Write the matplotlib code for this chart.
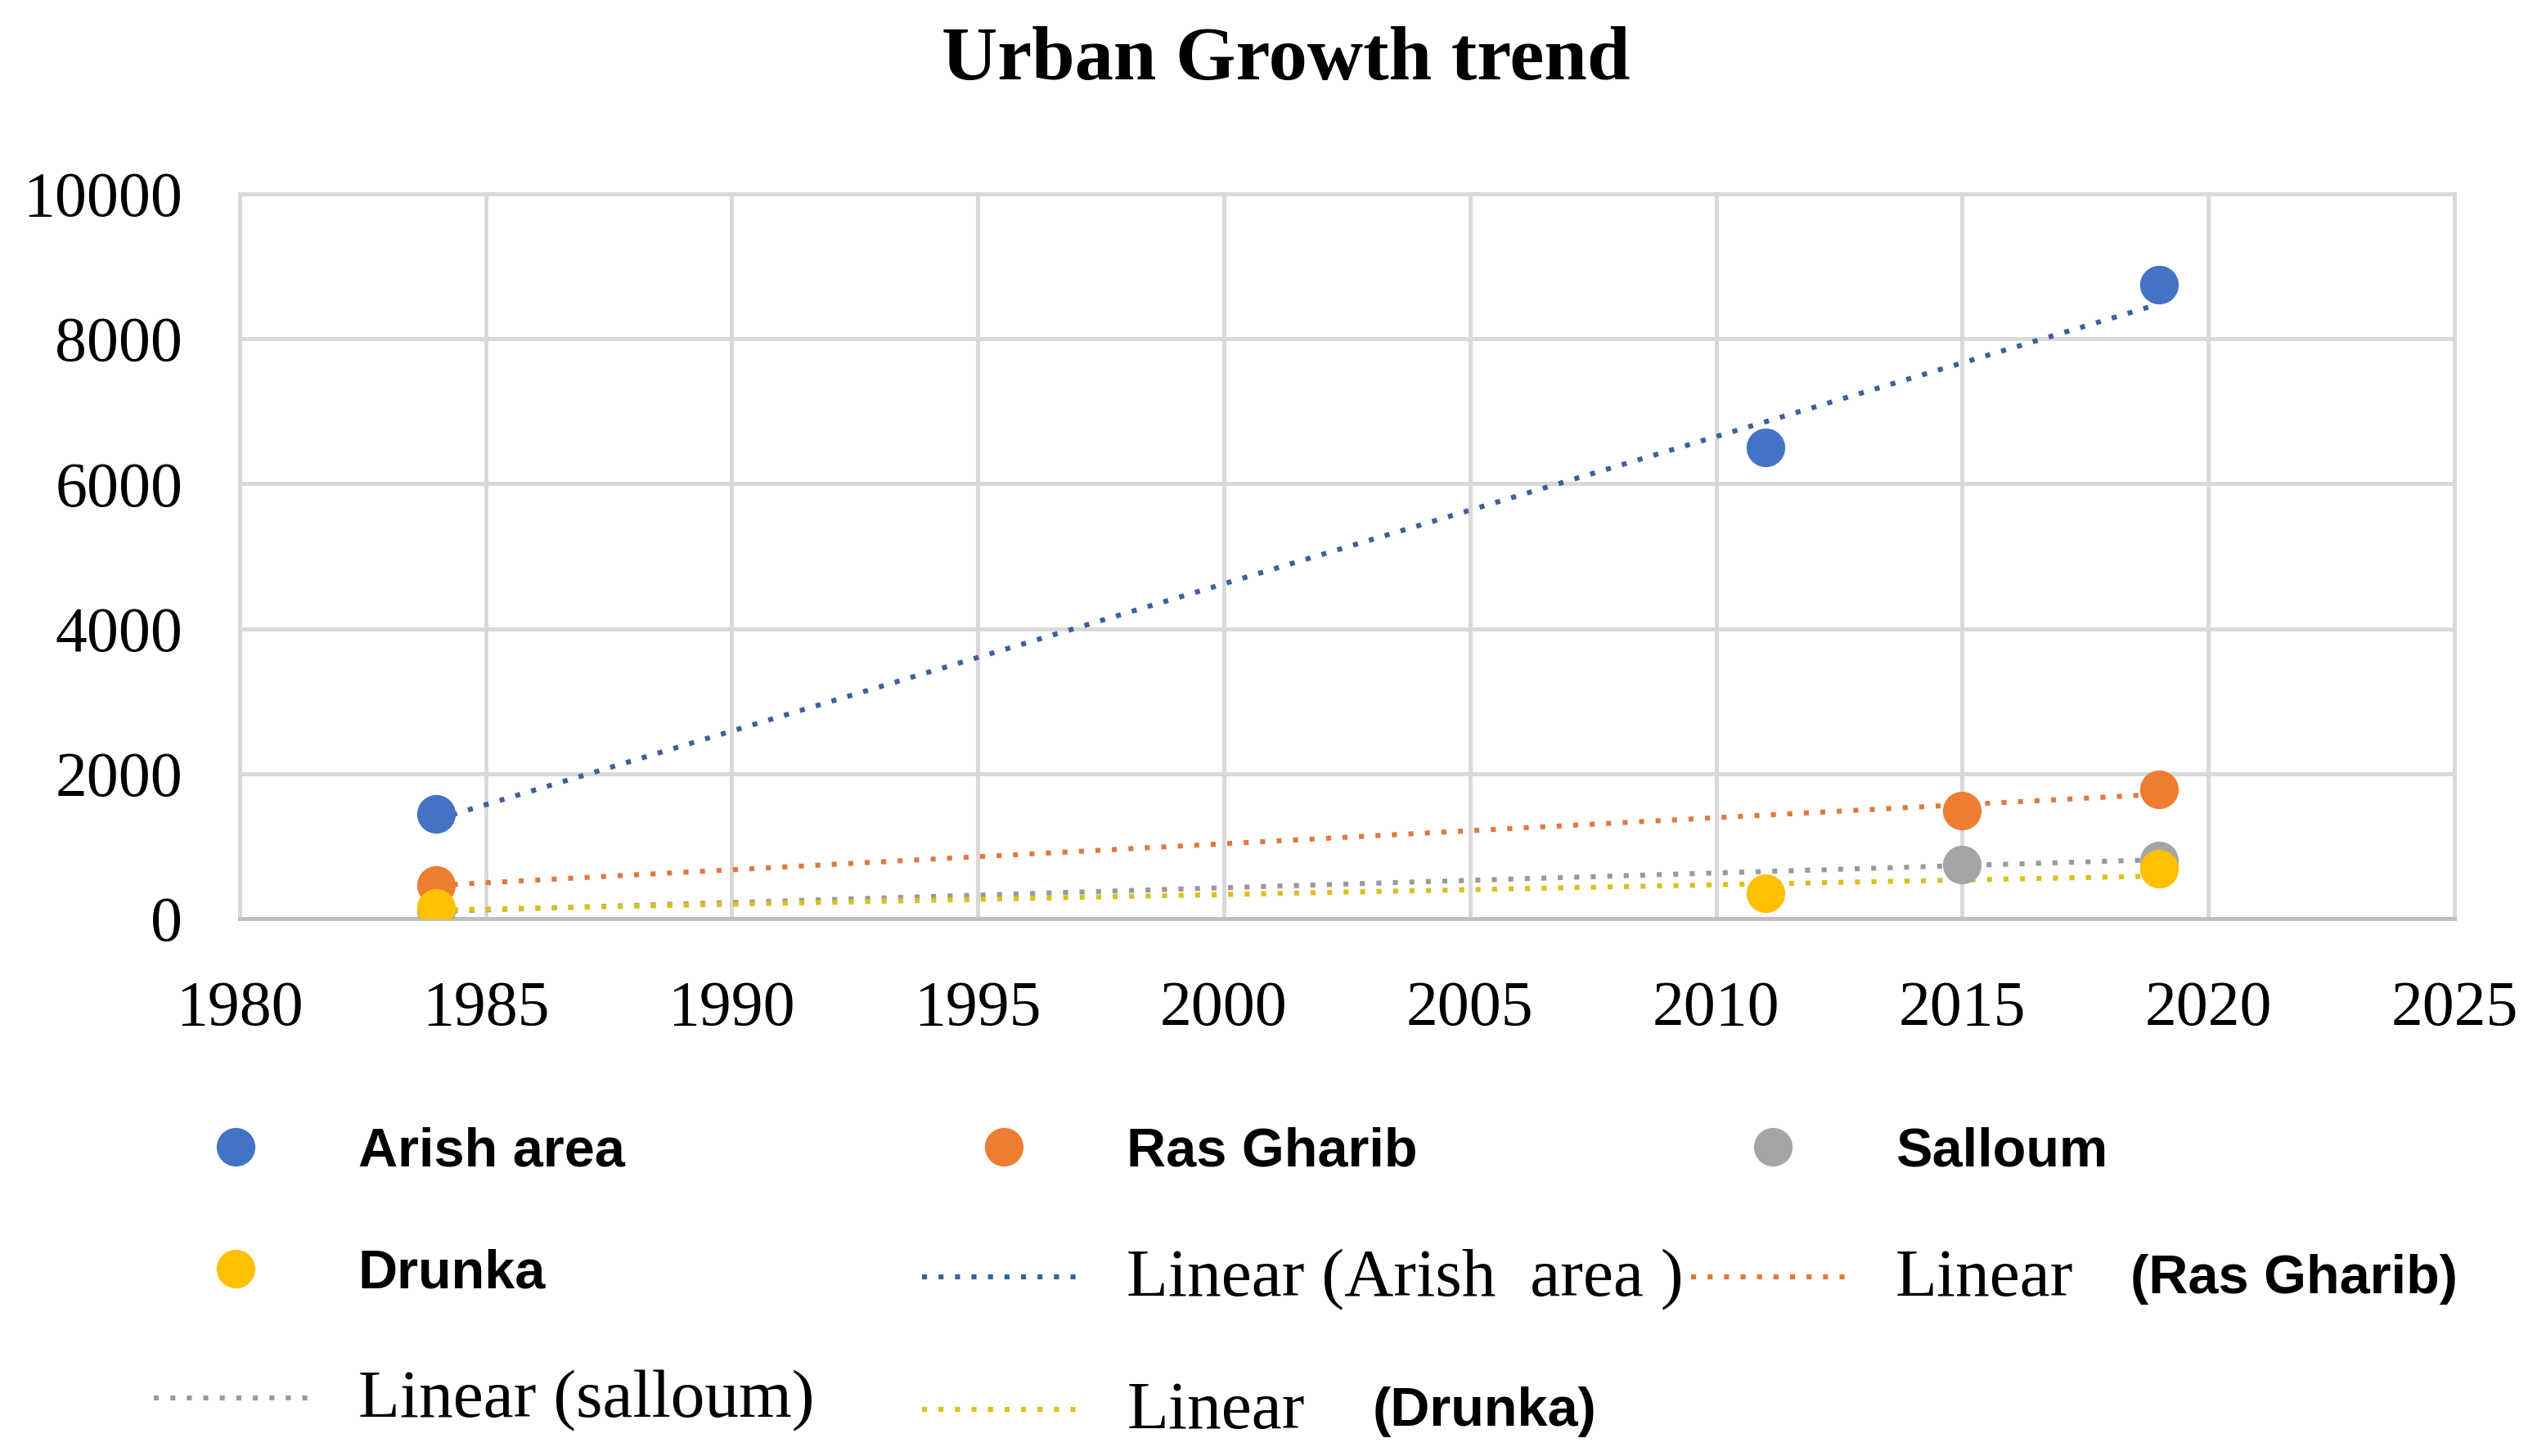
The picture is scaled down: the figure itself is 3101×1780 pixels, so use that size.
import numpy as np
import matplotlib
matplotlib.use("Agg")
import matplotlib.pyplot as plt
from matplotlib.lines import Line2D
from matplotlib.text import Annotation

# datos
arish_x = [1984, 2011, 2019]
arish_y = [1450, 6500, 8750]
ras_x = [1984, 2015, 2019]
ras_y = [470, 1490, 1790]
salloum_x = [1984, 2015, 2019]
salloum_y = [100, 750, 800]
drunka_x = [1984, 2011, 2019]
drunka_y = [150, 350, 690]

x_ticks = [1980, 1985, 1990, 1995, 2000, 2005, 2010, 2015, 2020, 2025]
y_ticks = [0, 2000, 4000, 6000, 8000, 10000]

BLUE = '#4472C4'
ORANGE = '#ED7D31'
GRAY = '#A5A5A5'
YELLOW = '#FFC000'

SERIF = 'Liberation Serif'
SANS = 'Liberation Sans'
DOTS = (0, (1, 2.3))

fig = plt.figure(figsize=(15.505, 8.9), dpi=200)
ax = fig.add_axes([0.0944, 0.369, 0.873, 0.498])

series = [
    ("Arish area", arish_x, arish_y, BLUE, '#3E5F9E'),
    ("Ras Gharib", ras_x, ras_y, ORANGE, '#DC7A42'),
    ("Salloum", salloum_x, salloum_y, GRAY, '#9A9A9A'),
    ("Drunka", drunka_x, drunka_y, YELLOW, '#D8C21A'),
]

marker_handles = []
trend_handles = []
for name, xs, ys, col, tcol in series:
    # linea de tendencia lineal (como en Excel)
    m, b = np.polyfit(xs, ys, 1)
    xt = np.array([xs[0], xs[-1]])
    tl, = ax.plot(xt, m * xt + b, color=tcol, linewidth=2.2,
                  linestyle=DOTS, zorder=3)
    trend_handles.append(tl)
    pt, = ax.plot(xs, ys, linestyle='none', marker='o', markersize=17,
                  color=col, markeredgewidth=0, zorder=4)
    marker_handles.append(pt)

ax.set_xlim(1980, 2025)
ax.set_ylim(0, 10000)
ax.set_xticks(x_ticks)
ax.set_yticks(y_ticks)
ax.grid(True, color='#d9d9d9', linewidth=1.8)
ax.set_axisbelow(True)
for side in ['top', 'right', 'left']:
    ax.spines[side].set_color('#d9d9d9')
    ax.spines[side].set_linewidth(1.8)
ax.spines['bottom'].set_color('#bfbfbf')
ax.spines['bottom'].set_linewidth(1.8)
ax.tick_params(axis='both', length=0, labelsize=28)
ax.tick_params(axis='x', pad=27)
ax.tick_params(axis='y', pad=25)
for lab in ax.get_xticklabels() + ax.get_yticklabels():
    lab.set_fontfamily(SERIF)

fig.text(0.507, 0.958, "Urban Growth trend", ha='center', va='center',
         fontsize=34, fontweight='bold', fontfamily=SERIF)

# leyenda en tres columnas (como rejilla fija de Excel)
sans_b = dict(family=SANS, weight='bold', size=24)
serif_p = dict(family=SERIF, size=30)

columnas = [
    (0.0606, [(marker_handles[0], "Arish area", sans_b, None),
              (marker_handles[3], "Drunka", sans_b, None),
              (trend_handles[2], "Linear (salloum)", serif_p, None)]),
    (0.3635, [(marker_handles[1], "Ras Gharib", sans_b, None),
              (trend_handles[0], "Linear (Arish  area )", serif_p, None),
              (trend_handles[3], "Linear", serif_p, ("(Drunka)", 30))]),
    (0.6665, [(marker_handles[2], "Salloum", sans_b, None),
              (trend_handles[1], "Linear", serif_p, ("(Ras Gharib)", 25))]),
]

for x0, items in columnas:
    hs = []
    for h, _, _, _ in items:
        if h.get_marker() == 'o':
            hs.append(Line2D([], [], color=h.get_color(), marker='o',
                             markersize=h.get_markersize(), linestyle='none',
                             markeredgewidth=0))
        else:
            hs.append(Line2D([], [], color=h.get_color(), linestyle=DOTS,
                             linewidth=h.get_linewidth()))
    leg = fig.legend(hs, [t for _, t, _, _ in items], loc='upper left',
                     bbox_to_anchor=(x0, 0.226), frameon=False, ncol=1,
                     prop=dict(family=SERIF, size=24), handlelength=3.0,
                     handletextpad=0.75, labelspacing=1.3, borderpad=0,
                     borderaxespad=0, numpoints=1)
    for txt, (_, _, fp, extra) in zip(leg.get_texts(), items):
        txt.set_fontfamily(fp['family'])
        txt.set_fontsize(fp['size'])
        txt.set_fontweight(fp.get('weight', 'normal'))
        if extra:
            an = Annotation(extra[0], xy=(1, 0.5), xycoords=txt,
                            xytext=(extra[1], 0), textcoords='offset points',
                            va='center', ha='left', fontsize=sans_b['size'],
                            fontweight='bold', fontfamily=SANS)
            an.set_zorder(10)
            fig.add_artist(an)

fig.savefig("out.png", dpi=200, facecolor='white')
